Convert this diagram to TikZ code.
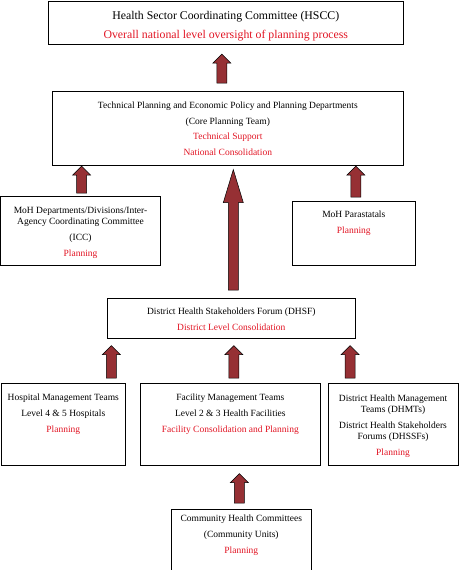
\documentclass[tikz,border=0pt]{standalone}
\usepackage{fontspec}
\setmainfont{Liberation Serif}
\usepackage{tikz}
\usetikzlibrary{calc,positioning}
\definecolor{textorojo}{RGB}{225,20,35}
\definecolor{granate}{RGB}{150,48,52}
\newcommand{\rojo}[1]{\textcolor{textorojo}{#1}}
\tikzset{
    caja/.style 2 args={draw,line width=0.6pt,inner sep=0pt,anchor=north west,minimum width=#1,minimum height=#2},
    texto/.style={align=center,inner sep=0pt,anchor=north,font=\fontsize{9.5}{11}\selectfont},
    textogrande/.style={texto,font=\fontsize{11.8}{13}\selectfont},
    bloqueflecha/.style n args={3}{draw=black,fill=granate,line width=0.5pt,
        to path={let \p1=(\tikztostart), \p2=(\tikztotarget) in
            (\x1-#1,\y1) -- (\x1-#1,\y2-#3) -- (\x1-#2,\y2-#3) -- (\x1,\y2)
            -- (\x1+#2,\y2-#3) -- (\x1+#1,\y2-#3) -- (\x1+#1,\y1) -- cycle}},
    flecha/.style={bloqueflecha={5pt}{9pt}{9pt}},
    flechalarga/.style={bloqueflecha={5pt}{10pt}{33pt}},
}

\begin{document}
\begin{tikzpicture}[x=1pt,y=1pt]
\useasboundingbox (0,0) rectangle (458,-570);

\node[caja={355pt}{43pt}]   (hscc) at (48,-0.5) {};
\node[textogrande,below=10.5pt of hscc.north] (hscc-t) {Health Sector Coordinating Committee (HSCC)\\[6pt]
    \rojo{Overall national level oversight of planning process}};

\node[caja={351pt}{74pt}]   (core) at (52,-91) {};
\node[texto,below=10.5pt of core.north] (core-t) {Technical Planning and Economic Policy and Planning Departments\\[4.8pt]
    (Core Planning Team)\\[4.8pt] \rojo{Technical Support}\\[4.8pt] \rojo{National Consolidation}};

\node[caja={159.5pt}{69pt}] (icc) at (0.5,-196) {};
\node[texto,below=11pt of icc.north] (icc-t) {MoH Departments/Divisions/Inter-\\Agency Coordinating Committee\\[5pt]
    (ICC)\\[5pt] \rojo{Planning}};

\node[caja={123pt}{64pt}]   (para) at (292,-201) {};
\node[texto,below=10pt of para.north] (para-t) {MoH Parastatals\\[5pt] \rojo{Planning}};

\node[caja={248pt}{40pt}]   (dhsf) at (107,-298) {};
\node[texto,below=10pt of dhsf.north] (dhsf-t) {District Health Stakeholders Forum (DHSF)\\[5pt]
    \rojo{District Level Consolidation}};

\node[caja={124pt}{82pt}]   (hmt) at (1,-383) {};
\node[texto,below=11pt of hmt.north] (hmt-t) {Hospital Management Teams\\[5pt]
    Level 4 \& 5 Hospitals\\[5pt] \rojo{Planning}};

\node[caja={180pt}{82pt}]   (fac) at (140,-383) {};
\node[texto,below=11pt of fac.north] (fac-t) {Facility Management Teams\\[5pt]
    Level 2 \& 3 Health Facilities\\[5pt] \rojo{Facility Consolidation and Planning}};

\node[caja={129.5pt}{82pt}] (dhmt) at (328,-383) {};
\node[texto,below=11.5pt of dhmt.north] (dhmt-t) {District Health Management\\Teams (DHMTs)\\[5pt]
    District Health Stakeholders\\Forums (DHSSFs)\\[5pt] \rojo{Planning}};

\node[caja={140pt}{60.5pt}] (com) at (171,-509) {};
\node[texto,below=6pt of com.north] (com-t) {Community Health Committees\\[5pt]
    (Community Units)\\[5pt] \rojo{Planning}};

% flechas hacia arriba
\draw[flecha] ([xshift=-6pt,yshift=8pt]core.north) to ([yshift=-10pt]hscc.south);
\draw[flecha] ([xshift=1pt,yshift=3pt]icc.north) to ([yshift=-0.5pt]core.south);
\draw[flechalarga] ([xshift=2pt,yshift=8pt]dhsf.north) to ([yshift=-4pt]core.south);
\draw[flecha] ([xshift=2pt,yshift=4pt]para.north) to ([yshift=-0.5pt]core.south);
\draw[flecha] ([xshift=48pt,yshift=5pt]hmt.north) to ([yshift=-7pt]dhsf.south);
\draw[flecha] ([xshift=3.5pt,yshift=5pt]fac.north) to ([yshift=-7pt]dhsf.south);
\draw[flecha] ([xshift=-43pt,yshift=5pt]dhmt.north) to ([yshift=-7pt]dhsf.south);
\draw[flecha] ([xshift=-2pt,yshift=6pt]com.north) to ([yshift=-8pt]fac.south);
\end{tikzpicture}
\end{document}
